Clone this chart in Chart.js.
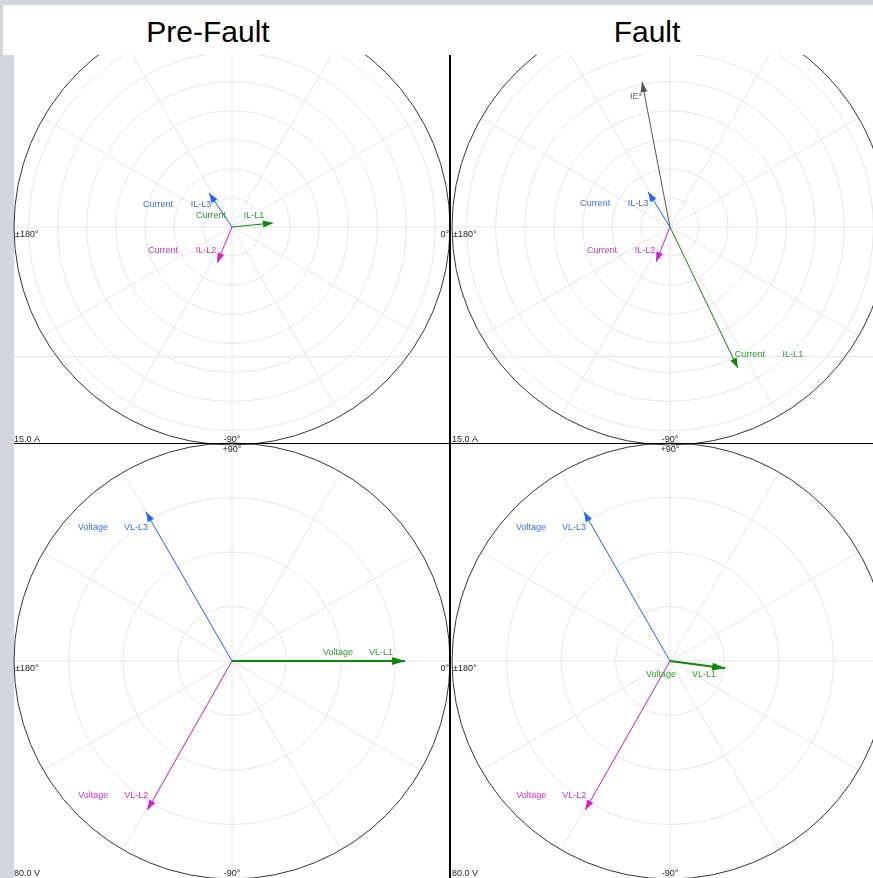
<!DOCTYPE html>
<html>
<head>
<meta charset="utf-8">
<script src="https://cdn.jsdelivr.net/npm/chart.js@4.4.1/dist/chart.umd.min.js"></script>
<style>
  body { margin: 0; width: 873px; height: 878px; overflow: hidden; position: relative;
         background: #d3d6dc; font-family: "Liberation Sans", Arial, sans-serif; }
  #plotBg { position: absolute; left: 14px; top: 55px; width: 859px; height: 823px; background: #fff; }
  #titleBar { position: absolute; left: 3px; top: 5px; width: 870px; height: 50px; background: #fff; z-index: 5; }
  .title { position: absolute; top: 12px; font-size: 30px; line-height: 30px; color: #000;
           transform: translateX(-50%); white-space: nowrap; }
  canvas { position: absolute; z-index: 1; }
  .vline { position: absolute; left: 449px; top: 55px; width: 2px; height: 823px; background: #000; z-index: 2; }
  .hline { position: absolute; left: 14px; top: 443px; width: 859px; height: 1px; background: #000; z-index: 2; }
</style>
</head>
<body>
<div id="plotBg"></div>
<canvas id="preCurrent" width="456" height="456" style="left:4px;top:-1px"></canvas>
<canvas id="faultCurrent" width="456" height="456" style="left:442px;top:-1px"></canvas>
<canvas id="preVoltage" width="456" height="456" style="left:4px;top:433px"></canvas>
<canvas id="faultVoltage" width="456" height="456" style="left:442px;top:433px"></canvas>
<div class="vline"></div>
<div class="hline"></div>
<div id="titleBar">
  <div class="title" style="left:205px">Pre-Fault</div>
  <div class="title" style="left:644px">Fault</div>
</div>
<script>
// phasor data: magnitude and angle (deg, counter-clockwise from 0°)
const currentNames = ['IL-L1', 'IL-L2', 'IL-L3'];
const faultCurrentNames = ['IL-L1', 'IL-L2', 'IL-L3', 'IE*'];
const voltageNames = ['VL-L1', 'VL-L2', 'VL-L3'];

const preFaultCurrentMag = [2.83, 2.68, 2.83];
const preFaultCurrentAng = [5.6, -112.6, 124];
const faultCurrentMag = [10.77, 2.6, 2.84, 10.16];
const faultCurrentAng = [-64.3, -111.8, 122, 100.9];

const preFaultVoltageMag = [63.5, 62.9, 63.2];
const preFaultVoltageAng = [0, -119.6, 120];
const faultVoltageMag = [20.4, 62.9, 63.2];
const faultVoltageAng = [-7.6, -119.6, 120];

const currentRange = 15;   // outer circle, A
const currentRing = 2;
const voltageRange = 80;   // outer circle, V
const voltageRing = 20;

const angleLabels = { right: '0°', left: '±180°', top: '+90°', bottom: '-90°' };

// styles
const phaseColors = { L1: '#0b870b', L2: '#cc22cc', L3: '#2563ff', IE: '#555555' };
const textColors = { L1: '#2f9a2f', L2: '#cc33cc', L3: '#3a6dff', IE: '#666666' };
const labelFont = '9px "Liberation Sans", Arial, sans-serif';

function keyOf(name) {
  return name.startsWith('IE') ? 'IE' : name.slice(-2);
}

const polarGrid = {
  id: 'polarGrid',
  beforeDatasetsDraw(chart, args, opts) {
    const ctx = chart.ctx, xs = chart.scales.x, ys = chart.scales.y, area = chart.chartArea;
    const cx = xs.getPixelForValue(0), cy = ys.getPixelForValue(0);
    const R = xs.getPixelForValue(opts.range) - cx;
    ctx.save();
    ctx.strokeStyle = '#e6e6e6';
    ctx.lineWidth = 1;
    if (opts.extraLine != null) {
      const y = Math.round(ys.getPixelForValue(opts.extraLine)) + 0.5;
      ctx.beginPath(); ctx.moveTo(area.left, y); ctx.lineTo(area.right, y); ctx.stroke();
    }
    for (let v = opts.step; v < opts.range; v += opts.step) {
      ctx.beginPath();
      ctx.arc(cx, cy, xs.getPixelForValue(v) - cx, 0, Math.PI * 2);
      ctx.stroke();
    }
    for (let a = 0; a < 360; a += 30) {
      const r = a * Math.PI / 180;
      ctx.beginPath();
      ctx.moveTo(cx, cy);
      ctx.lineTo(cx + R * Math.cos(r), cy - R * Math.sin(r));
      ctx.stroke();
    }
    ctx.strokeStyle = '#333';
    ctx.beginPath(); ctx.arc(cx, cy, R, 0, Math.PI * 2); ctx.stroke();

    ctx.fillStyle = '#222';
    ctx.font = labelFont;
    ctx.textBaseline = 'top';
    ctx.textAlign = 'left';
    ctx.fillText(angleLabels.left, cx - R + 1, cy + 3);
    ctx.textAlign = 'right';
    ctx.fillText(angleLabels.right, cx + R - 1, cy + 3);
    ctx.textAlign = 'center';
    ctx.fillText(angleLabels.top, cx, cy - R + 2);
    ctx.textBaseline = 'bottom';
    ctx.fillText(angleLabels.bottom, cx, cy + R - 1);
    ctx.textAlign = 'left';
    ctx.fillText(opts.rangeLabel, cx - R, cy + R - 1);
    ctx.restore();
  },
  afterDatasetsDraw(chart, args, opts) {
    const ctx = chart.ctx;
    ctx.save();
    chart.data.datasets.forEach((ds, i) => {
      const pts = chart.getDatasetMeta(i).data;
      const b = pts[0], t = pts[1];
      const ang = Math.atan2(t.y - b.y, t.x - b.x);
      const len = ds.borderWidth > 1 ? 13 : 10, hw = ds.borderWidth > 1 ? 4 : 3.5;
      ctx.fillStyle = ds.borderColor;
      ctx.beginPath();
      ctx.moveTo(t.x, t.y);
      ctx.lineTo(t.x - len * Math.cos(ang) + hw * Math.sin(ang), t.y - len * Math.sin(ang) - hw * Math.cos(ang));
      ctx.lineTo(t.x - len * Math.cos(ang) - hw * Math.sin(ang), t.y - len * Math.sin(ang) + hw * Math.cos(ang));
      ctx.closePath();
      ctx.fill();

      const off = opts.labelOffsets[i];
      const lx = t.x + off[0], ly = t.y + off[1];
      ctx.fillStyle = textColors[keyOf(ds.label)];
      ctx.font = labelFont;
      ctx.textAlign = 'center';
      ctx.textBaseline = 'middle';
      ctx.fillText(ds.label, lx, ly);
      if (ds.series) ctx.fillText(ds.series, lx - 43, ly);
    });
    ctx.restore();
  }
};

function phasorChart(id, names, mags, angs, series, range, step, rangeLabel, widths, labelOffsets, extraLine) {
  const datasets = names.map((name, i) => {
    const r = angs[i] * Math.PI / 180;
    return {
      label: name,
      series: name.startsWith('IE') ? null : series,
      data: [{ x: 0, y: 0 }, { x: mags[i] * Math.cos(r), y: mags[i] * Math.sin(r) }],
      showLine: true,
      borderColor: phaseColors[keyOf(name)],
      borderWidth: widths[i],
      pointRadius: 0,
      clip: false
    };
  });
  return new Chart(document.getElementById(id), {
    type: 'scatter',
    data: { datasets },
    options: {
      responsive: false,
      animation: false,
      events: [],
      layout: { padding: 10 },
      scales: {
        x: { type: 'linear', min: -range, max: range, display: false },
        y: { type: 'linear', min: -range, max: range, display: false }
      },
      plugins: {
        legend: { display: false },
        tooltip: { enabled: false },
        polarGrid: { range, step, rangeLabel, labelOffsets, extraLine }
      }
    },
    plugins: [polarGrid]
  });
}

phasorChart('preCurrent', currentNames, preFaultCurrentMag, preFaultCurrentAng, 'Current',
  currentRange, currentRing, '15.0 A', [1, 1, 1], [[-19, -7], [-11, -12], [-8, 12]], -8.9);
phasorChart('faultCurrent', faultCurrentNames, faultCurrentMag, faultCurrentAng, 'Current',
  currentRange, currentRing, '15.0 A', [1, 1, 1, 1], [[55, -14], [-11, -12], [-10, 12], [-6, 15]], -8.9);
phasorChart('preVoltage', voltageNames, preFaultVoltageMag, preFaultVoltageAng, 'Voltage',
  voltageRange, voltageRing, '80.0 V', [2, 1, 1], [[-24, -8], [-11, -15], [-10, 16]], null);
phasorChart('faultVoltage', voltageNames, faultVoltageMag, faultVoltageAng, 'Voltage',
  voltageRange, voltageRing, '80.0 V', [2, 1, 1], [[-21, 6], [-11, -15], [-10, 16]], null);
</script>
</body>
</html>
